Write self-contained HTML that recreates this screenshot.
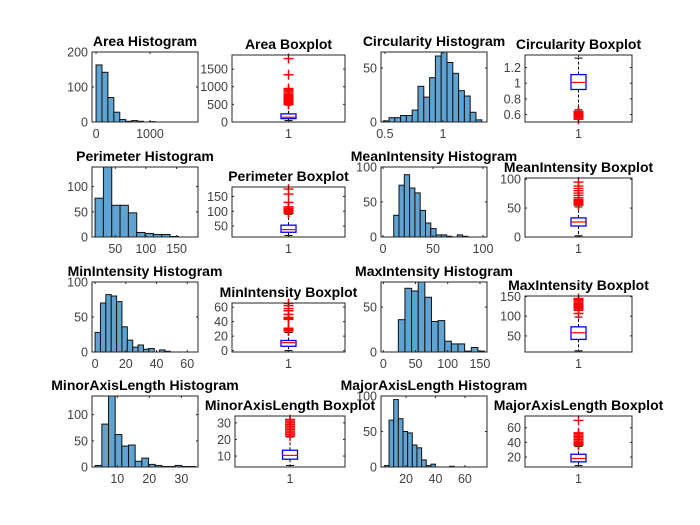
<!DOCTYPE html>
<html><head><meta charset="utf-8">
<style>
body{margin:0;background:#fff;}
svg{display:block;font-family:"Liberation Sans",sans-serif;}
.tk{font-size:12.5px;fill:#404040;}
.tt{font-size:14px;font-weight:bold;fill:#000;}
</style></head>
<body>
<svg id="fig" width="700" height="525" viewBox="0 0 700 525">
<rect width="700" height="525" fill="#fff"/>
</svg>
<script>
// ---- histogram data ----
const areaCounts = [163,142,70,28,7,2,4,2,0,1,0,0,0,0,0,0,0];
const areaBins = [0,110];
const circCounts = [1,4,4,6,6,11,33,23,41,61,65,55,45,29,24,9,2];
const circBins = [0.485,0.05];
const perimCounts = [77,139,63,63,48,9,7,5,5,1];
const perimBins = [17,13.6];
const meanCounts = [31,74,89,70,63,38,20,12,3,3,1,0,3,1];
const meanBins = [10.7,5.3];
const minCounts = [28,70,82,80,72,36,17,7,10,4,5,0,3,1];
const minBins = [0,3.5];
const maxCounts = [36,71,68,80,61,34,35,12,9,9,1,5,1];
const maxBins = [23.3,10.3];
const minorCounts = [3,82,140,62,40,42,11,17,5,3,1,1,3,1,1];
const minorBins = [3.1,2.08];
const majorCounts = [2,66,95,68,50,48,31,27,10,2,4,0,0,0,1];
const majorBins = [5.3,3.16];
// ---- boxplot stats: [whiskerLow, q1, median, q3, whiskerHigh] ----
const areaStats = [40,96,135,230,480];
const areaOut = [500,520,540,560,580,600,620,650,680,700,720,750,780,800,850,880,920,950,1340,1800];
const circStats = [0.66,0.92,1.01,1.11,1.32];
const circOut = [0.54,0.56,0.57,0.58,0.59,0.6,0.61,0.62,0.63,0.64];
const perimStats = [18,29,38,53,90];
const perimOut = [93,95,97,99,101,103,105,107,110,115,130,158,175];
const meanStats = [2,19,26,33,52];
const meanOut = [55,57,59,61,63,65,68,72,76,80,84,88,95];
const minStats = [0,6,11,14,25];
const minOut = [27,28,29,30,31,43,44,45,46,50,55,58,62,65];
const maxStats = [12,41,58,73,98];
const maxOut = [107,115,119,121,123,125,127,130,133,136,140,143,145];
const minorStats = [4.3,8.1,10.4,13.5,21.5];
const minorOut = [22,23,24,25,26,27,28,29,30,31,32];
const majorStats = [8.3,13.4,18,23.8,34.6];
const majorOut = [36,37,38,39,40,42,44,46,48,50,52,53,70];
// ---- tick labels ----
const areaXT=[0,1000], areaYT=[0,100,200], areaBT=[0,500,1000,1500];
const circXT=[0.5,1], circYT=[0,50], circBT=[0.6,0.8,1,1.2];
const perimXT=[50,100,150], perimYT=[0,50,100], perimBT=[50,100,150];
const meanXT=[0,50,100], meanYT=[0,50,100], meanBT=[0,50,100];
const minXT=[0,20,40,60], minYT=[0,50,100], minBT=[0,20,40,60];
const maxXT=[0,50,100,150], maxYT=[0,50], maxBT=[50,100,150];
const minorXT=[10,20,30], minorYT=[0,50,100], minorBT=[10,20,30];
const majorXT=[20,40,60], majorYT=[0,50,100], majorBT=[20,40,60];

const NS="http://www.w3.org/2000/svg";
const fig=document.getElementById('fig');
function mk(tag,attrs,parent){const e=document.createElementNS(NS,tag);for(const k in attrs)e.setAttribute(k,attrs[k]);(parent||fig).appendChild(e);return e;}

function axesFrame(g,box,name){
  const r=mk('rect',{x:box[0],y:box[1],width:box[2]-box[0],height:box[3]-box[1],fill:'none',stroke:'#262626','stroke-width':1},g);
  
  
}
function title(g,box,txt,name){
  const t=mk('text',{x:(box[0]+box[2])/2,y:box[1]-6,'text-anchor':'middle',class:'tt'},g);
  t.textContent=txt;
  
  
}
function yTicks(g,box,ticks,sy,name){
  ticks.forEach(v=>{const y=sy(v);
    mk('line',{x1:box[0],x2:box[0]+2,y1:y,y2:y,stroke:'#262626'},g);
    mk('line',{x1:box[2],x2:box[2]-2,y1:y,y2:y,stroke:'#262626'},g);
    const t=mk('text',{x:box[0]-4,y:y+4.5,'text-anchor':'end',class:'tk'},g);
    t.textContent=String(v);
    
    
  });
}
function xTicks(g,box,ticks,sx,name,labels){
  ticks.forEach((v,i)=>{const x=sx(v);
    mk('line',{x1:x,x2:x,y1:box[3],y2:box[3]-2,stroke:'#262626'},g);
    mk('line',{x1:x,x2:x,y1:box[1],y2:box[1]+2,stroke:'#262626'},g);
    const t=mk('text',{x:x,y:box[3]+16,'text-anchor':'middle',class:'tk'},g);
    t.textContent=labels?labels[i]:String(v);
    
    
  });
}
function hist(name,txt,box,xlim,ylim,counts,bins,xt,yt){
  const g=mk('g',{});
  
  
  const sx=v=>box[0]+(v-xlim[0])/(xlim[1]-xlim[0])*(box[2]-box[0]);
  const sy=v=>box[3]-(v-ylim[0])/(ylim[1]-ylim[0])*(box[3]-box[1]);
  counts.forEach((c,i)=>{
    if(c<=0)return;
    const x0=sx(bins[0]+i*bins[1]),x1=sx(bins[0]+(i+1)*bins[1]);
    const top=Math.max(sy(c),box[1]);
    const r=mk('rect',{x:x0,y:top,width:x1-x0,height:box[3]-top,fill:'#5fa3d3',stroke:'#111','stroke-width':1},g);
    
    
  });
  axesFrame(g,box,name+'-histogram');
  xTicks(g,box,xt,sx,name+'-histogram');
  yTicks(g,box,yt,sy,name+'-histogram');
  title(g,box,txt,name+'-histogram');
}
function boxplot(name,txt,box,ylim,st,out,bt){
  const g=mk('g',{});
  
  
  const sy=v=>box[3]-(v-ylim[0])/(ylim[1]-ylim[0])*(box[3]-box[1]);
  const cx=(box[0]+box[2])/2, hw=7.5, cw=4;
  const clip=y=>Math.max(box[1],Math.min(box[3],y));
  mk('line',{x1:cx,x2:cx,y1:sy(st[3]),y2:sy(st[4]),stroke:'#000','stroke-dasharray':'3,2'},g);
  mk('line',{x1:cx,x2:cx,y1:sy(st[1]),y2:sy(st[0]),stroke:'#000','stroke-dasharray':'3,2'},g);
  mk('line',{x1:cx-cw,x2:cx+cw,y1:sy(st[4]),y2:sy(st[4]),stroke:'#000'},g);
  mk('line',{x1:cx-cw,x2:cx+cw,y1:clip(sy(st[0])),y2:clip(sy(st[0])),stroke:'#000'},g);
  const b=mk('rect',{x:cx-hw,y:sy(st[3]),width:2*hw,height:sy(st[1])-sy(st[3]),fill:'none',stroke:'#0000ff','stroke-width':1.3},g);
  
  
  const m=mk('line',{x1:cx-hw,x2:cx+hw,y1:sy(st[2]),y2:sy(st[2]),stroke:'#ff0000','stroke-width':1.2},g);
  
  
  out.forEach(v=>{const y=sy(v);
    const p=mk('path',{d:`M${cx-5},${y}H${cx+5}M${cx},${y-5}V${y+5}`,stroke:'#ff0000','stroke-width':1.4},g);
    
    
  });
  axesFrame(g,box,name+'-boxplot');
  xTicks(g,box,[1],()=>cx,name+'-boxplot',['1']);
  yTicks(g,box,bt,sy,name+'-boxplot');
  title(g,box,txt,name+'-boxplot');
}
// row 1
hist('area','Area Histogram',[92,52,198,122],[-75,1890],[0,200],areaCounts,areaBins,areaXT,areaYT);
boxplot('area','Area Boxplot',[232,55,345,122],[0,1900],areaStats,areaOut,areaBT);
hist('circularity','Circularity Histogram',[381,52,487,122],[0.466,1.38],[0,64.7],circCounts,circBins,circXT,circYT);
boxplot('circularity','Circularity Boxplot',[525,55,632,122],[0.505,1.36],circStats,circOut,circBT);
// row 2
hist('perimeter','Perimeter Histogram',[92,167,198,237],[12,185],[0,139],perimCounts,perimBins,perimXT,perimYT);
boxplot('perimeter','Perimeter Boxplot',[232,187,345,237],[13,182],perimStats,perimOut,perimBT);
hist('mean-intensity','MeanIntensity Histogram',[381,167,487,237],[-2,104],[0,100],meanCounts,meanBins,meanXT,meanYT);
boxplot('mean-intensity','MeanIntensity Boxplot',[525,178,632,237],[0,102],meanStats,meanOut,meanBT);
// row 3
hist('min-intensity','MinIntensity Histogram',[92,282,198,352],[-2,67],[0,100],minCounts,minBins,minXT,minYT);
boxplot('min-intensity','MinIntensity Boxplot',[232,303,345,352],[-1.9,65.7],minStats,minOut,minBT);
hist('max-intensity','MaxIntensity Histogram',[381,282,487,352],[-3.6,161],[0,78],maxCounts,maxBins,maxXT,maxYT);
boxplot('max-intensity','MaxIntensity Boxplot',[525,296,632,352],[9,151.5],maxStats,maxOut,maxBT);
// row 4
hist('minor-axis-length','MinorAxisLength Histogram',[92,396,198,467],[2.1,35.2],[0,135.7],minorCounts,minorBins,minorXT,minorYT);
boxplot('minor-axis-length','MinorAxisLength Boxplot',[235,416,345,467],[3.4,34.1],minorStats,minorOut,minorBT);
hist('major-axis-length','MajorAxisLength Histogram',[381,396,487,467],[3,75],[0,100],majorCounts,majorBins,majorXT,majorYT);
boxplot('major-axis-length','MajorAxisLength Boxplot',[525,416,632,467],[6.4,76],majorStats,majorOut,majorBT);
</script>
</body></html>
